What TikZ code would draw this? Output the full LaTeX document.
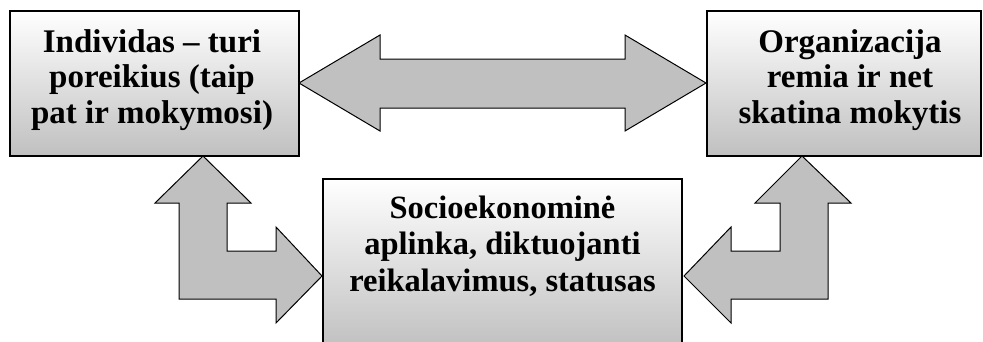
\documentclass[tikz,border=0pt]{standalone}
\usepackage{fontspec}
\setmainfont{Liberation Serif}
\definecolor{boxgray}{RGB}{192,192,192}
\definecolor{arrgray}{RGB}{192,192,192}
\begin{document}
\begin{tikzpicture}[x=1pt,y=-1pt,
  box/.style={draw=black, line width=1.3pt, top color=white, bottom color=boxgray},
  arr/.style={draw=black, line width=1pt, fill=arrgray, line join=miter},
  lbl/.style={font=\fontsize{33}{35.5}\selectfont\bfseries, align=center, inner sep=0pt, anchor=base}]
\useasboundingbox (0,0) rectangle (983,341);
\clip (0,0) rectangle (983,341);

% boxes
\path[box] (10,11) rectangle (299,156);
\path[box] (707,11) rectangle (981,156);
\path[box] (323,179) rectangle (682,348);

% texts (anchor=base is the baseline of the last line)
\node[lbl] (ind) at (152,123) {Individas – turi\\poreikius (taip\\pat ir mokymosi)};
\node[lbl] (org) at (850,123) {Organizacija\\remia ir net\\skatina mokytis};
\node[lbl, font=\fontsize{32.5}{36.5}\selectfont\bfseries] (soc) at (502.5,291) {Socioekonominė\\aplinka, diktuojanti\\reikalavimus, statusas};

% double arrow between top boxes
\path[arr] (299,83) -- (380,35) -- (380,59) -- (625,59) -- (625,35) -- (706,83)
  -- (625,131) -- (625,108) -- (380,108) -- (380,131) -- cycle;

% left L-arrow
\path[arr] (203,156) -- (251,203) -- (227,203) -- (227,251) -- (276,251) -- (276,227)
  -- (322,276) -- (276,323) -- (276,299) -- (179,299) -- (179,203) -- (155,203) -- cycle;

% right L-arrow
\path[arr] (802,156) -- (851,203) -- (828,203) -- (828,299) -- (731,299) -- (731,323)
  -- (684,276) -- (731,227) -- (731,251) -- (780,251) -- (780,203) -- (755,203) -- cycle;
\end{tikzpicture}
\end{document}
